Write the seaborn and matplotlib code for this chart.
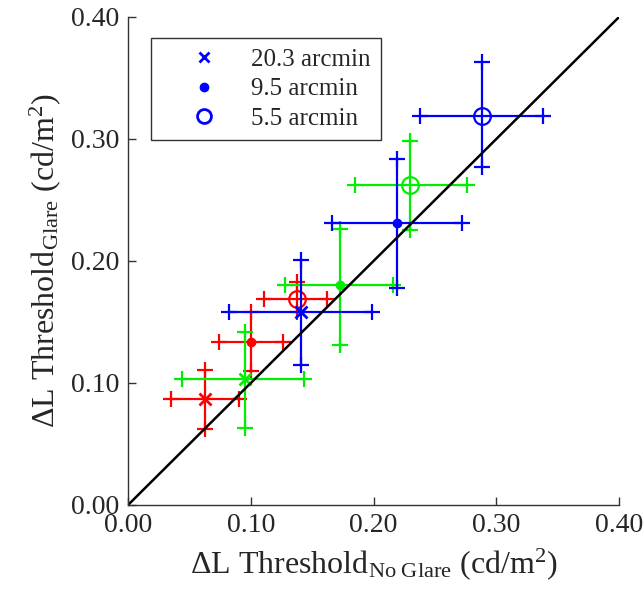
import numpy as np
import pandas as pd
import matplotlib
matplotlib.use('Agg')
import matplotlib.pyplot as plt
import seaborn as sns
from matplotlib.lines import Line2D

## 데이터
labels = ['20.3 arcmin', '9.5 arcmin', '5.5 arcmin']

# red, green, blue 순서: [20.3, 9.5, 5.5]
red_x = [0.063, 0.100, 0.138]
red_y = [0.087, 0.134, 0.169]
red_xlo = [0.035, 0.074, 0.111]
red_xhi = [0.090, 0.126, 0.162]
red_ylo = [0.062, 0.110, 0.158]
red_yhi = [0.111, 0.158, 0.183]

green_x = [0.095, 0.173, 0.230]
green_y = [0.103, 0.180, 0.262]
green_xlo = [0.044, 0.128, 0.185]
green_xhi = [0.143, 0.216, 0.276]
green_ylo = [0.063, 0.131, 0.225]
green_yhi = [0.142, 0.226, 0.298]

blue_x = [0.141, 0.219, 0.288]
blue_y = [0.158, 0.231, 0.319]
blue_xlo = [0.082, 0.166, 0.238]
blue_xhi = [0.199, 0.272, 0.338]
blue_ylo = [0.115, 0.178, 0.277]
blue_yhi = [0.201, 0.284, 0.363]

diag = [0.0, 0.40]

## 스타일
sns.set_style('ticks')
plt.rcParams['font.family'] = ['Liberation Serif', 'DejaVu Serif']
plt.rcParams['mathtext.fontset'] = 'custom'
plt.rcParams['mathtext.rm'] = 'Liberation Serif'
plt.rcParams['mathtext.it'] = 'Liberation Serif:italic'
plt.rcParams['xtick.direction'] = 'in'
plt.rcParams['ytick.direction'] = 'in'

fig = plt.figure(figsize=(6.44, 6.09), dpi=100)
ax = fig.add_axes([0.1988, 0.1708, 0.7625, 0.8013])

groups = [
    ('#ff0000', red_x, red_y, red_xlo, red_xhi, red_ylo, red_yhi),
    ('#00ee00', green_x, green_y, green_xlo, green_xhi, green_ylo, green_yhi),
    ('#0000ff', blue_x, blue_y, blue_xlo, blue_xhi, blue_ylo, blue_yhi),
]

lw = 1.6
for color, x, y, xlo, xhi, ylo, yhi in groups:
    x = np.array(x); y = np.array(y)
    for i in range(3):
        ax.plot([xlo[i], xhi[i]], [y[i], y[i]], color=color, lw=lw)
        ax.plot([x[i], x[i]], [ylo[i], yhi[i]], color=color, lw=lw)
        # + 모양 캡
        ax.plot([xlo[i], xhi[i], x[i], x[i]], [y[i], y[i], ylo[i], yhi[i]],
                ls='none', marker='+', ms=11, mew=lw, color=color)
    ax.plot(x[0], y[0], marker='x', ms=9, mew=2, color=color, ls='none')
    ax.plot(x[1], y[1], marker='o', ms=6, color=color, ls='none')
    ax.plot(x[2], y[2], marker='o', ms=12, mfc='none', mew=1.6, color=color, ls='none')

sns.lineplot(x=diag, y=diag, color='black', lw=1.8, ax=ax)

ax.set_xlim(0, 0.40)
ax.set_ylim(0, 0.40)
ticks = [0.0, 0.1, 0.2, 0.3, 0.4]
ax.set_xticks(ticks)
ax.set_yticks(ticks)
ax.set_xticklabels(['%.2f' % t for t in ticks])
ax.set_yticklabels(['%.2f' % t for t in ticks])
ax.tick_params(labelsize=20, length=6, width=1, color='#333333', pad=6)
sns.despine(ax=ax)
for s in ['left', 'bottom']:
    ax.spines[s].set_linewidth(1.0)
    ax.spines[s].set_color('#333333')

ax.set_xlabel(r'$\Delta$L Threshold$_{\mathrm{No\ Glare}}$ (cd/m$^{2}$)', fontsize=23, labelpad=6)
ax.set_ylabel(r'$\Delta$L Threshold$_{\mathrm{Glare}}$ (cd/m$^{2}$)', fontsize=23, labelpad=6)

handles = [
    Line2D([], [], ls='none', marker='x', ms=7, mew=2, color='#0000ff'),
    Line2D([], [], ls='none', marker='o', ms=6, color='#0000ff'),
    Line2D([], [], ls='none', marker='o', ms=10, mfc='none', mew=2, color='#0000ff'),
]
leg = ax.legend(handles, labels, loc='upper left', bbox_to_anchor=(0.047, 0.956),
                borderaxespad=0, fontsize=18, frameon=True, fancybox=False,
                edgecolor='#333333', framealpha=1, handletextpad=0.2,
                labelspacing=0.28, borderpad=0.4, handlelength=3.4)
leg.get_frame().set_linewidth(1.0)

plt.savefig('out.png', dpi=100)
